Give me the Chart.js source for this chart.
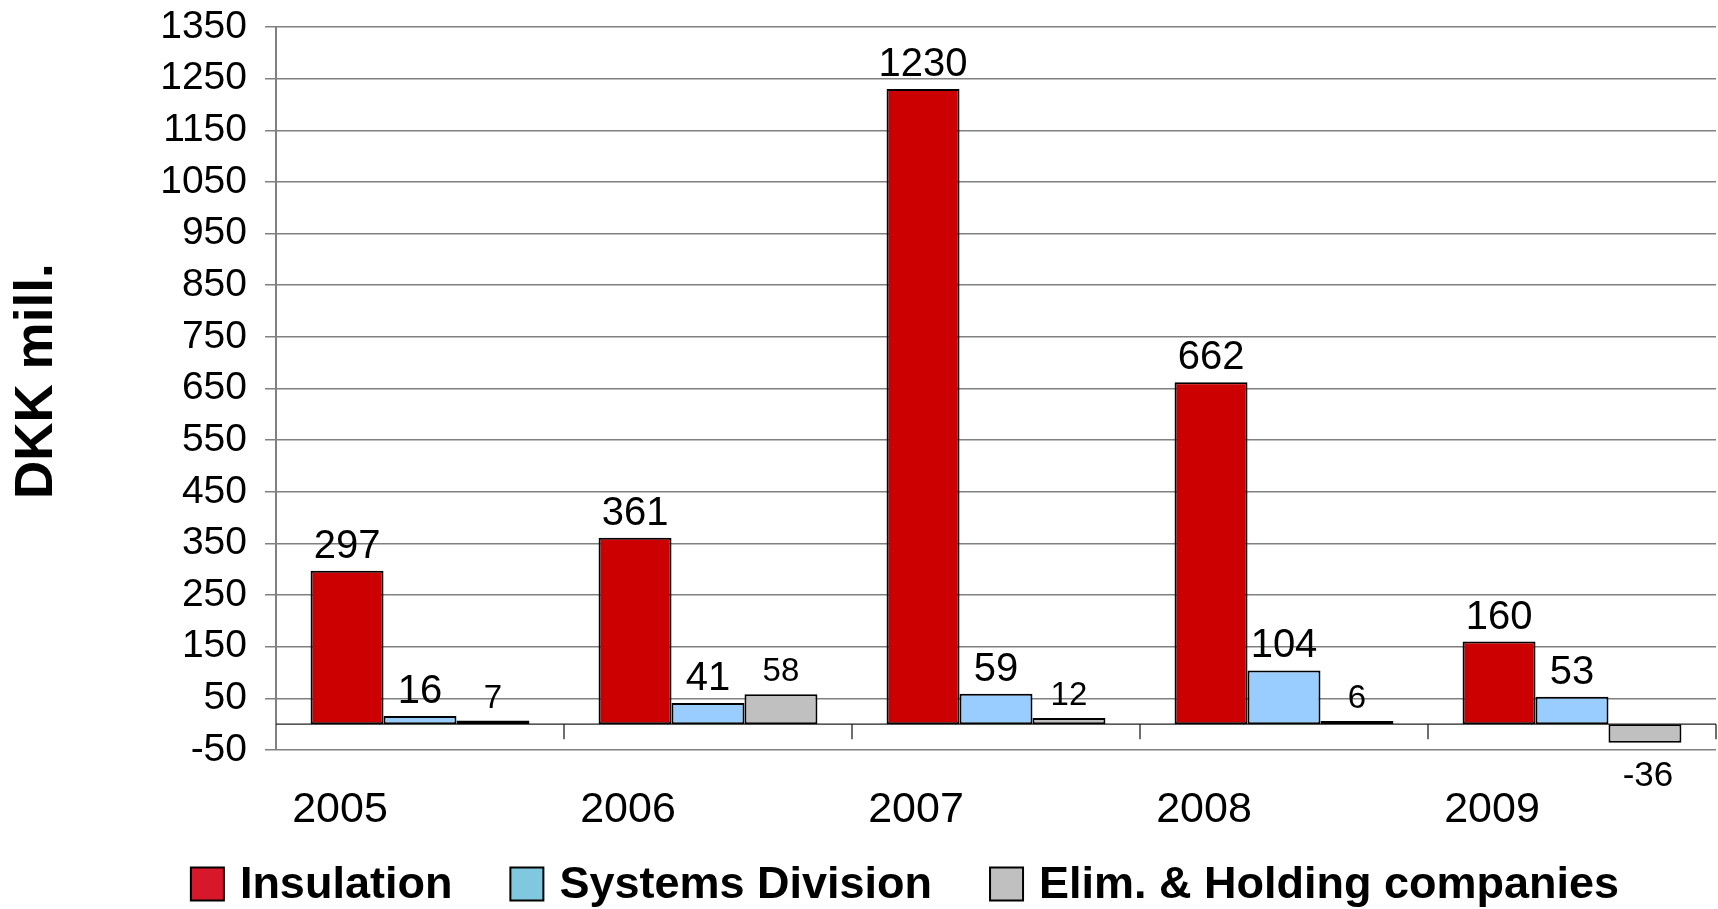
<!DOCTYPE html>
<html>
<head>
<meta charset="utf-8">
<script src="https://cdn.jsdelivr.net/npm/chart.js@4/dist/chart.umd.min.js"></script>
<style>
    html, body { margin: 0; padding: 0; background: #ffffff; }
    canvas { display: block; }
</style>
</head>
<body>
<canvas id="segmentEbit" width="1718" height="909"></canvas>
<script>
const years = ['2005', '2006', '2007', '2008', '2009'];
const insulation = [297, 361, 1230, 662, 160];
const systemsDivision = [16, 41, 59, 104, 53];
const elimHolding = [7, 58, 12, 6, -36];
const seriesNames = ['Insulation', 'Systems Division', 'Elim. & Holding companies'];
const yMin = -50;
const yMax = 1350;
const yStep = 100;

const FONT = "'Liberation Sans', Arial, Helvetica, sans-serif";
const barColors = ['#cc0000', '#99ccff', '#c0c0c0'];
const legendColors = ['#d7182a', '#80c8e0', '#c0c0c0'];

// line at zero with the short dividers between years hanging below it
const zeroAxis = {
    id: 'zeroAxis',
    beforeDatasetsDraw(chart) {
        const { ctx, chartArea, scales: { x, y } } = chart;
        const y0 = y.getPixelForValue(0);
        ctx.save();
        ctx.strokeStyle = '#222222';
        ctx.lineWidth = 1.3;
        ctx.beginPath();
        ctx.moveTo(chartArea.left, y0);
        ctx.lineTo(chartArea.right, y0);
        for (let i = 1; i <= years.length; i++) {
            const xb = i < years.length
                ? (x.getPixelForValue(i - 1) + x.getPixelForValue(i)) / 2
                : chartArea.right;
            ctx.moveTo(xb, y0);
            ctx.lineTo(xb, y0 + 15);
        }
        ctx.stroke();
        ctx.restore();
    }
};

// numbers above each bar (below for negative ones)
const valueLabels = {
    id: 'valueLabels',
    afterDatasetsDraw(chart) {
        const ctx = chart.ctx;
        ctx.save();
        ctx.fillStyle = '#000000';
        ctx.textAlign = 'center';
        ctx.textBaseline = 'alphabetic';
        chart.data.datasets.forEach((ds, i) => {
            const meta = chart.getDatasetMeta(i);
            meta.data.forEach((bar, j) => {
                const v = ds.data[j];
                if (v >= 0) {
                    ctx.font = ds.labelSize + 'px ' + FONT;
                    ctx.fillText(String(v), bar.x, bar.y - 13);
                } else {
                    ctx.font = (ds.labelSize + 2) + 'px ' + FONT;
                    ctx.fillText(String(v), bar.x + 3, bar.y + 43);
                }
            });
        });
        ctx.restore();
    }
};

// legend row at the bottom
const bottomLegend = {
    id: 'bottomLegend',
    afterDraw(chart, args, opts) {
        const ctx = chart.ctx;
        ctx.save();
        ctx.font = 'bold ' + opts.size + 'px ' + FONT;
        const widths = seriesNames.map(n => opts.box + opts.textGap + ctx.measureText(n).width);
        const total = widths.reduce((a, b) => a + b, 0) + opts.itemGap * (widths.length - 1);
        let x = opts.centerX - total / 2;
        const y = opts.y;
        ctx.textBaseline = 'middle';
        ctx.textAlign = 'left';
        seriesNames.forEach((name, i) => {
            ctx.fillStyle = legendColors[i];
            ctx.fillRect(x, y - opts.box / 2, opts.box, opts.box);
            ctx.strokeStyle = '#000000';
            ctx.lineWidth = 2;
            ctx.strokeRect(x, y - opts.box / 2, opts.box, opts.box);
            ctx.fillStyle = '#000000';
            ctx.fillText(name, x + opts.box + opts.textGap, y + 2);
            x += widths[i] + opts.itemGap;
        });
        ctx.restore();
    }
};

const config = {
    type: 'bar',
    data: {
        labels: years,
        datasets: [
            { label: seriesNames[0], data: insulation, backgroundColor: barColors[0], labelSize: 40 },
            { label: seriesNames[1], data: systemsDivision, backgroundColor: barColors[1], labelSize: 40 },
            { label: seriesNames[2], data: elimHolding, backgroundColor: barColors[2], labelSize: 33 }
        ]
    },
    options: {
        responsive: false,
        animation: false,
        layout: { padding: { top: 27, left: 0, right: 2, bottom: 75 } },
        datasets: {
            bar: {
                borderColor: '#000000',
                borderWidth: 2,
                borderSkipped: false,
                categoryPercentage: 0.76,
                barPercentage: 1.0
            }
        },
        scales: {
            x: {
                grid: { display: false, drawTicks: false },
                border: { display: false },
                ticks: {
                    color: '#000000',
                    font: { family: FONT, size: 43 },
                    labelOffset: -80,
                    padding: 34,
                    maxRotation: 0
                },
                afterFit(scale) { scale.height = 84; }
            },
            y: {
                min: yMin,
                max: yMax,
                ticks: {
                    stepSize: yStep,
                    color: '#000000',
                    font: { family: FONT, size: 39 },
                    padding: 18,
                    callback: (v) => String(v)
                },
                grid: { color: '#808080', lineWidth: 1.5, tickLength: 11 },
                border: { color: '#808080', width: 2 },
                title: {
                    display: true,
                    text: ' DKK mill.',
                    color: '#000000',
                    font: { family: FONT, size: 53, weight: 'bold' },
                    padding: { top: 6, bottom: 0 }
                },
                afterFit(scale) {
                    scale.width = 276;
                    scale.paddingTop = 0;
                    scale.paddingBottom = 0;
                }
            }
        },
        plugins: {
            legend: { display: false },
            tooltip: { enabled: false },
            bottomLegend: { size: 45, box: 33, textGap: 16, itemGap: 58, centerX: 905, y: 884 }
        }
    },
    plugins: [zeroAxis, valueLabels, bottomLegend]
};

const chart = new Chart(document.getElementById('segmentEbit').getContext('2d'), config);
</script>
</body>
</html>
